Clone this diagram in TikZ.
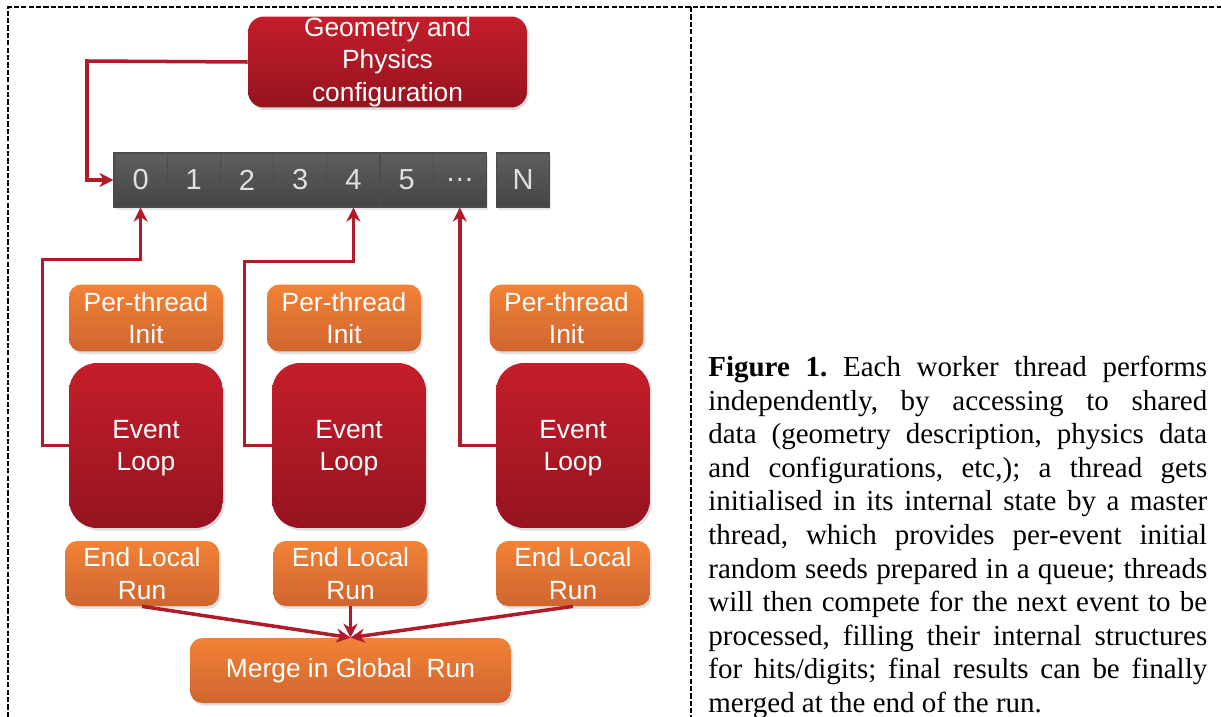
\documentclass[tikz,border=0pt]{standalone}
\usepackage{fontspec}
\setmainfont{Liberation Serif}
\setsansfont{Liberation Sans}
\usepackage{tikz}
\usetikzlibrary{calc}
\usetikzlibrary{arrows.meta}
\usetikzlibrary{shadows}
\usetikzlibrary{positioning}
\definecolor{redtop}{HTML}{C41E2A}
\definecolor{redbot}{HTML}{951320}
\definecolor{orgtop}{HTML}{F28236}
\definecolor{orgbot}{HTML}{CF6530}
\definecolor{celltop}{HTML}{5E5E5E}
\definecolor{cellbot}{HTML}{454545}
\definecolor{linkred}{HTML}{B21A2A}
\tikzset{inv/.style={opacity=0}}
\tikzset{box/.style={rounded corners=9pt,text=white,align=center,font=\sffamily\fontsize{15}{18.5}\selectfont,inner sep=0pt,
  drop shadow={opacity=0.25,shadow xshift=1pt,shadow yshift=-1.5pt}}}
\tikzset{redbox/.style={box,top color=redtop,bottom color=redbot}}
\tikzset{orgbox/.style={box,rounded corners=7pt,top color=orgtop,bottom color=orgbot}}
\tikzset{cell/.style={top color=celltop,bottom color=cellbot,draw=black!70,line width=0.6pt,text=black!12,
  font=\sffamily\fontsize{16.5}{18}\selectfont,minimum width=1.064cm,minimum height=1.08cm,inner sep=0pt,
  drop shadow={opacity=0.2,shadow xshift=1pt,shadow yshift=-1.5pt}}}
\tikzset{link/.style={draw=linkred,line width=2pt,-{Stealth[length=8pt,width=8pt,inset=2.5pt]}}}
\tikzset{frame/.style={line width=0.7pt,dash pattern=on 3pt off 1.2pt}}

\begin{document}
\begin{tikzpicture}[x=0.02cm,y=-0.02cm]
\useasboundingbox (0,0) rectangle (1221,717);
% dashed frame
\draw[frame] (8,717) -- (8,7) -- (1221,7);
\draw[frame] (691,7) -- (691,717);

\node (GP) at (387.5,62) [redbox,minimum width=5.58cm,minimum height=1.82cm] {Geometry and\\Physics\\configuration};

\foreach \i/\t in {0/0,1/1,2/2,3/3,4/4,5/5,6/\dots}
{
	\node (C\i) at (140.6+53.2*\i,180) [cell] {\t};
}
\node (CN) at (523,180) [cell] {N};

\coordinate (K0) at (87,61);
\draw[link] (GP.west) -- (K0) |- (C0.west);

\foreach \i / \x / \xi / \xe in {1/146/146/142,2/349/344/350.5,3/573/566.5/573}
{
	\node (PI\i) at (\xi,318) [orgbox,minimum width=3.08cm,minimum height=1.34cm] {Per-thread\\Init};
	\node (EL\i) at (\x,445.5) [redbox,rounded corners=16pt,minimum width=3.08cm,minimum height=3.3cm,text depth=-6pt] {Event\\Loop};
	\node (EN\i) at (\xe,573.5) [orgbox,minimum width=3.08cm,minimum height=1.3cm] {End Local\\Run};
}
\node (MG) at (350.5,670.5) [orgbox,minimum width=6.42cm,minimum height=1.3cm] {Merge in Global~~Run};

% threads take the next event
\draw[link] (EL1.west) -- ++(-26,0) |- ($(C0.south)+(0,52)$) -- (C0.south);
\draw[link] (EL2.west) -- ++(-27,0) |- ($(C4.south)+(0,54)$) -- (C4.south);
\draw[link] (EL3.west) -| (C6.south);

\foreach \i in {1,2,3}
{
	\draw[link] (EN\i.south) -- (MG.north);
}

\node (CAP) at (708,356) [anchor=north west,inner sep=0pt,text width=9.98cm,align=justify,
  font=\fontsize{16.5}{19.1}\selectfont] {\frenchspacing\textbf{Figure 1.} Each worker thread performs\linebreak
independently, by accessing to shared\linebreak
data (geometry description, physics data\linebreak
and configurations, etc,); a thread gets\linebreak
initialised in its internal state by a master\linebreak
thread, which provides per-event initial\linebreak
random seeds prepared in a queue; threads\linebreak
will then compete for the next event to be\linebreak
processed, filling their internal structures\linebreak
for hits/digits; final results can be finally\linebreak
merged at the end of the run.};
\end{tikzpicture}
\end{document}
